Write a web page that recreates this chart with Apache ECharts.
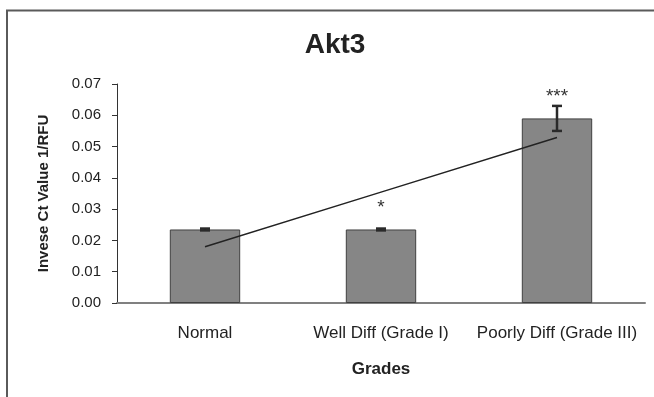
<!DOCTYPE html>
<html>
<head>
<meta charset="utf-8">
<script src="https://cdn.jsdelivr.net/npm/echarts@6/dist/echarts.min.js"></script>
<style>html,body{margin:0;padding:0;background:#fff}#c{width:654px;height:397px}</style>
</head>
<body>
<div id="c"></div>
<script>
var categories = ["Normal", "Well Diff (Grade I)", "Poorly Diff (Grade III)"];
var values = [0.0235, 0.0235, 0.0590];
var errors = [0.0003, 0.0003, 0.0040];
var trendValues = [0.0180, 0.03545, 0.0529];
var sigLabels = ["", "*", "***"];
var sigLabelY = [null, 0.0305, 0.0658];
var yTicks = [0, 0.01, 0.02, 0.03, 0.04, 0.05, 0.06, 0.07];

var FONT = "'Liberation Sans', Arial, sans-serif";
var chart = echarts.init(document.getElementById('c'), null, {renderer: 'canvas'});
chart.setOption({
  animation: false,
  backgroundColor: '#fff',
  textStyle: {fontFamily: FONT},
  graphic: [
    {type: 'rect', z: -10, shape: {x: 7, y: 10.5, width: 700, height: 450},
     style: {fill: 'none', stroke: '#5a5a5a', lineWidth: 2}},
    {type: 'text', x: 335, y: 45,
     style: {text: 'Akt3', font: 'bold 28px ' + FONT, fill: '#222', textAlign: 'center', textVerticalAlign: 'middle'}}
  ],
  grid: {left: 117, right: 9, top: 84, bottom: 94, containLabel: false},
  xAxis: {
    type: 'category', data: categories,
    axisLine: {lineStyle: {color: '#808080', width: 2}},
    axisTick: {show: false},
    axisLabel: {color: '#222', fontSize: 17, margin: 22, interval: 0},
    name: 'Grades', nameLocation: 'middle', nameGap: 58,
    nameTextStyle: {color: '#222', fontSize: 17, fontWeight: 'bold'}
  },
  yAxis: {
    type: 'value', min: 0, max: 0.07, interval: 0.01,
    axisLine: {show: true, lineStyle: {color: '#333', width: 1}},
    axisTick: {show: true, length: 5, lineStyle: {color: '#333'}},
    splitLine: {show: false},
    axisLabel: {color: '#222', fontSize: 15, margin: 16,
      formatter: function (v) { return v.toFixed(2); }},
    name: 'Invese Ct Value 1/RFU', nameLocation: 'middle', nameGap: 66, nameRotate: 90,
    nameTextStyle: {color: '#222', fontSize: 15, fontWeight: 'bold'}
  },
  series: [
    {type: 'bar', data: values, barWidth: '40%',
     itemStyle: {color: '#868686', borderColor: '#404040', borderWidth: 1}},
    {type: 'custom', z: 5,
     data: values.map(function (v, i) { return [i, v - errors[i], v + errors[i]]; }),
     renderItem: function (params, api) {
       var i = api.value(0);
       var lo = api.coord([i, api.value(1)]);
       var hi = api.coord([i, api.value(2)]);
       var hw = 5;
       var st = {stroke: '#2a2a2a', lineWidth: 2.5};
       return {type: 'group', children: [
         {type: 'line', shape: {x1: hi[0], y1: hi[1], x2: lo[0], y2: lo[1]}, style: st},
         {type: 'line', shape: {x1: hi[0] - hw, y1: hi[1], x2: hi[0] + hw, y2: hi[1]}, style: st},
         {type: 'line', shape: {x1: lo[0] - hw, y1: lo[1], x2: lo[0] + hw, y2: lo[1]}, style: st}
       ]};
     }},
    {type: 'line', data: trendValues, symbol: 'none', z: 6,
     lineStyle: {color: '#222', width: 1.5}},
    {type: 'custom', z: 7,
     data: sigLabelY.map(function (y, i) { return [i, y, sigLabels[i]]; }).filter(function (d) { return d[1] !== null; }),
     renderItem: function (params, api) {
       var p = api.coord([api.value(0), api.value(1)]);
       return {type: 'text', x: p[0], y: p[1],
         style: {text: sigLabels[api.value(0)], font: '19px ' + FONT, fill: '#333', textAlign: 'center', textVerticalAlign: 'middle'}};
     }}
  ]
});
</script>
</body>
</html>
